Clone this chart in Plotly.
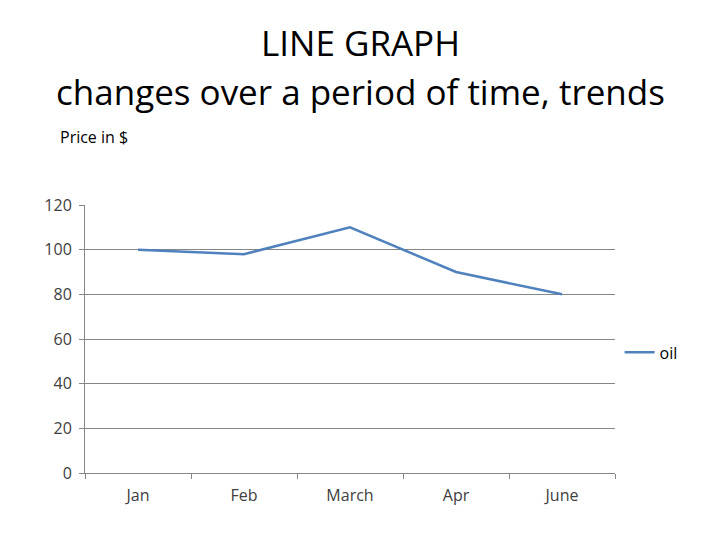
import plotly.graph_objects as go

months = ["Jan", "Feb", "March", "Apr", "June"]
oil_price = [100, 98, 110, 90, 80]
y_ticks = [0, 20, 40, 60, 80, 100, 120]

fig = go.Figure()
fig.add_trace(go.Scatter(
    x=months, y=oil_price, mode="lines", name="oil",
    line=dict(color="#4F81BD", width=2.5),
))

L, T, B = 77, 197, 465
H = B - T
W = 530

fig.update_layout(
    width=720, height=540,
    margin=dict(l=L, r=720 - L - W, t=T, b=540 - B),
    paper_bgcolor="white", plot_bgcolor="white",
    font=dict(family="Open Sans, Liberation Sans, sans-serif", color="#404040", size=16),
    showlegend=True,
    legend=dict(x=1.003 + 3 / W, y=0.45, xanchor="left", yanchor="middle",
                font=dict(size=16, color="#000000"), itemwidth=30,
                bgcolor="rgba(0,0,0,0)"),
    annotations=[
        dict(text="LINE GRAPH",
             x=0.5 + (360 - 8 - L - W / 2) / W, y=(B - 35) / H, xref="paper", yref="paper",
             xanchor="center", yanchor="middle",
             showarrow=False, font=dict(size=35, color="#000000")),
        dict(text="changes over a period of time, trends",
             x=0.5 + (360 - 8 - L - W / 2) / W, y=(B - 83) / H, xref="paper", yref="paper",
             xanchor="center", yanchor="middle",
             showarrow=False, font=dict(size=35, color="#000000")),
        dict(text="Price in $", x=(50 - L) / W, y=(B - 129) / H, xref="paper", yref="paper",
             xanchor="left", yanchor="middle", showarrow=False,
             font=dict(size=16, color="#000000")),
    ],
)
fig.update_xaxes(
    type="category", range=[-0.5, 4.5], showgrid=False,
    showline=True, linecolor="#868686", linewidth=1,
    ticks="outside", tickson="boundaries", ticklen=5, tickcolor="#868686",
    ticklabelstandoff=8,
    tickfont=dict(size=16, color="#404040"),
)
fig.update_yaxes(
    range=[0, 120], tickvals=y_ticks, showgrid=True, gridcolor="#868686", gridwidth=1,
    showline=True, linecolor="#868686", linewidth=1,
    ticks="outside", ticklen=5, tickcolor="#868686", zeroline=False,
    ticklabelstandoff=4,
    tickfont=dict(size=16, color="#404040"),
)
fig.write_html("out.html")
